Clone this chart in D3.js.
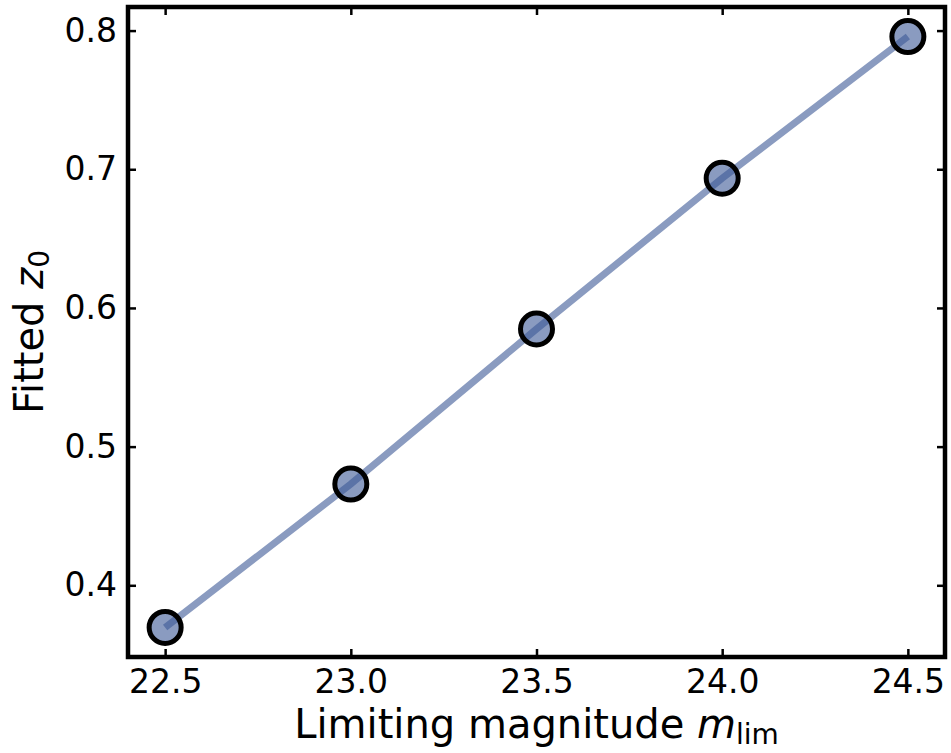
<!DOCTYPE html>
<html>
<head>
<meta charset="utf-8">
<script src="https://cdn.jsdelivr.net/npm/d3@7.9.0/dist/d3.min.js"></script>
<style>
  body { margin: 0; background: #fff; }
  svg { display: block; font-family: "DejaVu Sans", sans-serif; }
</style>
</head>
<body>
<svg width="951" height="753"></svg>
<script>
// data
const mlim = [22.5, 23.0, 23.5, 24.0, 24.5];
const z0 = [0.3696, 0.473, 0.5848, 0.6935, 0.7957];
const xTicks = [22.5, 23.0, 23.5, 24.0, 24.5];
const yTicks = [0.4, 0.5, 0.6, 0.7, 0.8];

const plotLeft = 128, plotRight = 945, plotTop = 7, plotBottom = 657;
const col = 'rgb(60,88,150)';

let svg = d3.select('svg');

// matplotlib-style 5% margins
let xPad = (d3.max(mlim) - d3.min(mlim)) * 0.05;
let yPad = (d3.max(z0) - d3.min(z0)) * 0.05;
let x = d3.scaleLinear().domain([d3.min(mlim) - xPad, d3.max(mlim) + xPad]).range([plotLeft, plotRight]);
let y = d3.scaleLinear().domain([d3.min(z0) - yPad, d3.max(z0) + yPad]).range([plotBottom, plotTop]);

// ticks pointing inward on all four sides
let axB = svg.append('g').attr('transform', `translate(0,${plotBottom})`)
  .call(d3.axisBottom(x).tickValues(xTicks).tickSizeInner(-8).tickSizeOuter(0).tickPadding(13).tickFormat(d3.format('.1f')));
let axT = svg.append('g').attr('transform', `translate(0,${plotTop})`)
  .call(d3.axisTop(x).tickValues(xTicks).tickSizeInner(-8).tickSizeOuter(0).tickFormat(''));
let axL = svg.append('g').attr('transform', `translate(${plotLeft},0)`)
  .call(d3.axisLeft(y).tickValues(yTicks).tickSizeInner(-8).tickSizeOuter(0).tickPadding(11).tickFormat(d3.format('.1f')));
let axR = svg.append('g').attr('transform', `translate(${plotRight},0)`)
  .call(d3.axisRight(y).tickValues(yTicks).tickSizeInner(-8).tickSizeOuter(0).tickFormat(''));

[axB, axT, axL, axR].forEach((a) => {
  a.select('.domain').remove();
  a.selectAll('line').attr('stroke', '#000').attr('stroke-width', 2.5);
  a.selectAll('text').attr('fill', '#000').attr('font-size', 33).attr('font-family', '"DejaVu Sans", sans-serif');
});
axB.selectAll('text').attr('dy', '0.71em');

// line
svg.append('path')
  .datum(mlim.map((m, i) => [m, z0[i]]))
  .attr('d', d3.line().x((d) => x(d[0])).y((d) => y(d[1])))
  .attr('fill', 'none')
  .attr('stroke', col)
  .attr('stroke-opacity', 0.6)
  .attr('stroke-width', 7);

// markers
mlim.forEach((m, i) => {
  svg.append('circle')
    .attr('cx', x(m))
    .attr('cy', y(z0[i]))
    .attr('r', 16)
    .attr('fill', col)
    .attr('fill-opacity', 0.6)
    .attr('stroke', '#000')
    .attr('stroke-width', 5);
});

// frame
svg.append('rect')
  .attr('x', plotLeft).attr('y', plotTop)
  .attr('width', plotRight - plotLeft).attr('height', plotBottom - plotTop)
  .attr('fill', 'none').attr('stroke', '#000').attr('stroke-width', 4.5);

// axis labels
let xl = svg.append('text')
  .attr('x', (plotLeft + plotRight) / 2).attr('y', 738)
  .attr('text-anchor', 'middle').attr('font-size', 40);
xl.append('tspan').text('Limiting magnitude ');
xl.append('tspan').attr('font-style', 'italic').text('m');
xl.append('tspan').attr('font-size', 28).attr('dy', 6).text('lim');

let yl = svg.append('text')
  .attr('transform', `translate(43,${(plotTop + plotBottom) / 2}) rotate(-90)`)
  .attr('text-anchor', 'middle').attr('font-size', 40);
yl.append('tspan').text('Fitted ');
yl.append('tspan').attr('font-style', 'italic').text('z');
yl.append('tspan').attr('font-size', 28).attr('dy', 6).text('0');
</script>
</body>
</html>
